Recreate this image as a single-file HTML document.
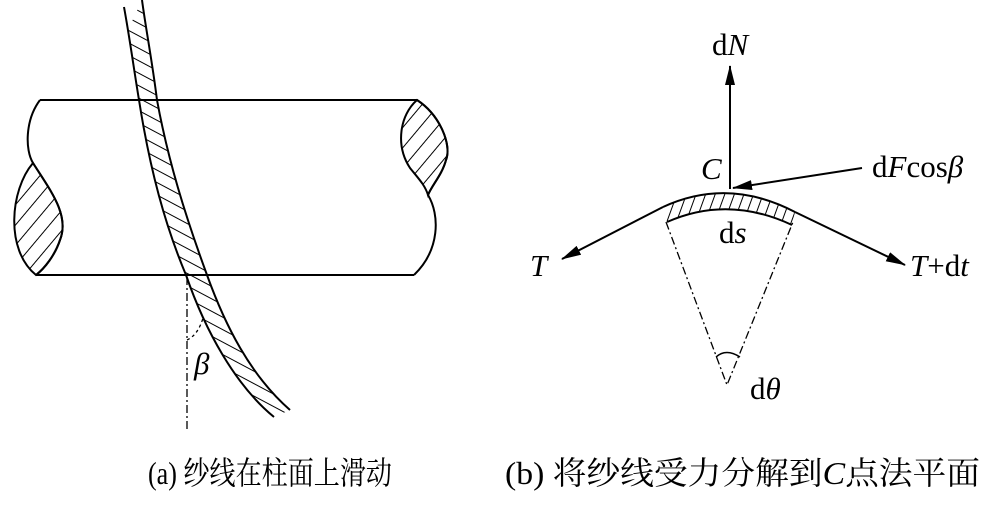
<!DOCTYPE html>
<html><head><meta charset="utf-8"><style>body{margin:0;background:#fff}svg{display:block}</style></head><body>
<svg width="1000" height="508" viewBox="0 0 1000 508" xmlns="http://www.w3.org/2000/svg">
<defs>
<pattern id="h1" width="13" height="13" patternUnits="userSpaceOnUse" patternTransform="rotate(40)"><line x1="0" y1="0" x2="0" y2="13" stroke="#000" stroke-width="2"/></pattern>
<pattern id="h2" width="11" height="11" patternUnits="userSpaceOnUse" patternTransform="rotate(-62)"><line x1="0" y1="0" x2="0" y2="11" stroke="#000" stroke-width="2"/></pattern>
<pattern id="h3" width="9" height="9" patternUnits="userSpaceOnUse" patternTransform="rotate(20)"><line x1="0" y1="0" x2="0" y2="9" stroke="#000" stroke-width="2"/></pattern>
<marker id="ar" markerWidth="20" markerHeight="10" refX="19" refY="5" orient="auto" markerUnits="userSpaceOnUse"><path d="M0,0 L20,5 L0,10 Z" fill="#000"/></marker>
</defs>
<g fill="none" stroke="#000" stroke-width="2">
<line x1="40" y1="100" x2="417" y2="100"/>
<line x1="36" y1="275" x2="414" y2="275"/>
<path d="M40,100 C25,120 25,150 33,163 C50,190 70,215 60,240 C55,255 45,268 36,275" />
<path d="M33,163 C10,190 5,250 36,275 C45,268 55,255 60,240 C70,215 50,190 33,163 Z" fill="url(#h1)"/>
<path d="M417,100 C440,115 452,145 446,160 C442,175 432,185 428,195 C440,215 440,250 414,275"/>
<path d="M417,100 C400,115 395,145 410,168 C418,178 425,185 428,195 C432,185 442,175 446,160 C452,145 440,115 417,100 Z" fill="url(#h1)"/>
<path d="M124,7 C130,40 134,70 139,100 C150,170 165,225 186,275 C205,330 235,385 274,417 L290,410 C250,375 225,325 207,275 C185,215 168,160 157,100 C152,60 146,30 142,0 L128,30 Z" stroke="none" fill="url(#h2)"/>
<path d="M124,7 C130,40 134,70 139,100 C150,170 165,225 186,275 C205,330 235,385 274,417"/>
<path d="M142,0 C146,30 152,60 157,100 C168,160 185,215 207,275 C225,325 250,375 290,410"/>
<path d="M187,277 L187,432" stroke-width="1.3" stroke-dasharray="8,3,2,3"/>
<path d="M187,340 Q198,335 203,318" stroke-width="1.3" stroke-dasharray="3,3"/>
<line x1="730" y1="189" x2="730" y2="66" marker-end="url(#ar)"/>
<line x1="862" y1="168" x2="733" y2="188" marker-end="url(#ar)"/>
<path d="M663,207 Q728,177 795,212 L792,225 Q728,195 667,222 Z" stroke="none" fill="url(#h3)"/>
<path d="M663,207 Q728,177 795,212"/>
<path d="M667,222 Q728,195 792,225"/>
<line x1="663" y1="207" x2="562" y2="259" marker-end="url(#ar)"/>
<line x1="795" y1="212" x2="905" y2="265" marker-end="url(#ar)"/>
<path d="M666,222 L727,385 L793,222" stroke-width="1.3" stroke-dasharray="8,3,2,3"/>
<path d="M716,357 Q726,348 740,357" stroke-width="1.5"/>
</g>
<g font-family="Liberation Serif, serif" font-size="31" fill="#000">
<text x="194" y="374" font-style="italic">β</text>
<text x="712" y="55">d<tspan font-style="italic">N</tspan></text>
<text x="701" y="179" font-style="italic">C</text>
<text x="872" y="177">d<tspan font-style="italic">F</tspan>cos<tspan font-style="italic">β</tspan></text>
<text x="719" y="243">d<tspan font-style="italic">s</tspan></text>
<text x="530" y="276" font-style="italic">T</text>
<text x="910" y="276"><tspan font-style="italic">T</tspan>+d<tspan font-style="italic">t</tspan></text>
<text x="750" y="399">d<tspan font-style="italic">θ</tspan></text>
</g>
<g font-family="Liberation Serif, 'Noto Serif CJK SC', 'Noto Sans CJK SC', serif" font-size="32" fill="#000">
<text x="148" y="484" textLength="244" lengthAdjust="spacingAndGlyphs">(a) 纱线在柱面上滑动</text>
<text x="505" y="484" textLength="475" lengthAdjust="spacingAndGlyphs">(b) 将纱线受力分解到<tspan font-style="italic">C</tspan>点法平面</text>
</g>
</svg>
</body></html>
